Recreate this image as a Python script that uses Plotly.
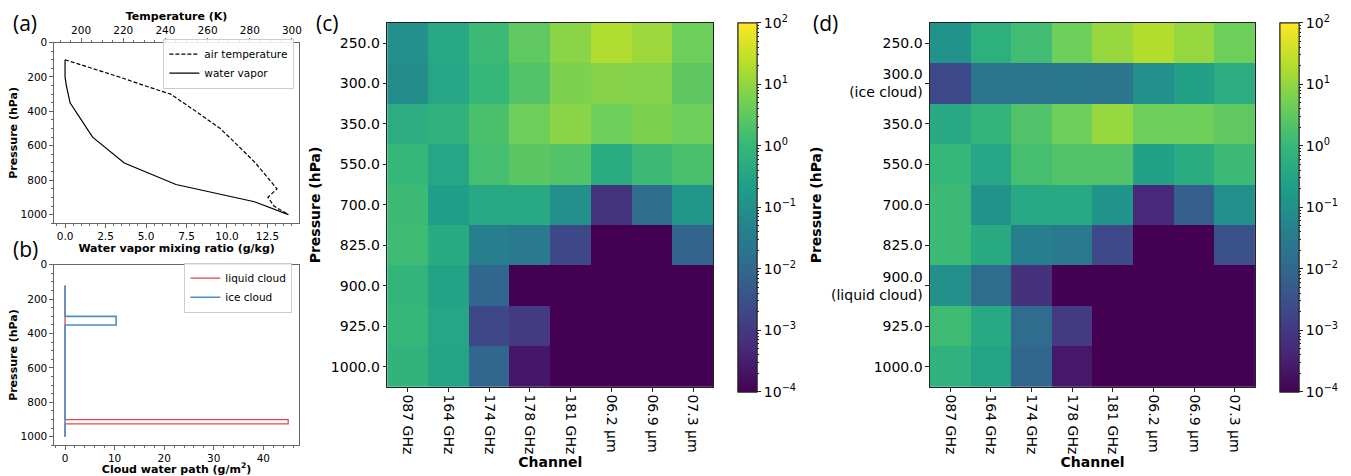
import numpy as np
import plotly.graph_objects as go

W, H = 1351, 476
FONT = "DejaVu Sans"

# ---------------- data ----------------
# (a) air temperature profile
temp_p = [100, 150, 200, 250, 300, 400, 500, 600, 700, 850, 900, 950, 1000]
temp_K = [192.4, 205.5, 218.1, 230.0, 242.5, 254.5, 266.0, 274.5, 282.7, 292.9, 288.6, 291.5, 298.2]
# (a) water vapour mixing ratio profile
vapor_p = [100, 200, 250, 300, 350, 550, 700, 825, 900, 925, 1000]
vapor_q = [0.0, 0.0, 0.08, 0.18, 0.31, 1.70, 3.66, 6.85, 10.4, 11.7, 13.8]
# (b) cloud water path
cloud_p = [121, 250, 300, 350, 550, 700, 825, 900, 925, 1000]
liquid_cwp = [0, 0, 0, 0, 0, 0, 0, 45.0, 0, 0]
ice_cwp = [0, 0, 10.3, 0, 0, 0, 0, 0, 0, 0]

# (c),(d) sensitivity heat maps
levels = [250.0, 300.0, 350.0, 550.0, 700.0, 825.0, 900.0, 925.0, 1000.0]
channels = ["087 GHz", "164 GHz", "174 GHz", "178 GHz", "181 GHz", "06.2 µm", "06.9 µm", "07.3 µm"]
level_notes_d = {300.0: "(ice cloud)", 900.0: "(liquid cloud)"}

sens_c = [
    [0.10, 0.40, 1.2, 3.2, 8.3, 19.0, 12.6, 4.5],
    [0.087, 0.35, 1.0, 2.2, 6.3, 7.8, 7.1, 3.0],
    [0.52, 0.69, 1.8, 4.5, 8.3, 4.5, 6.3, 4.5],
    [1.0, 0.35, 1.6, 2.8, 2.2, 0.49, 1.2, 1.8],
    [1.2, 0.21, 0.40, 0.40, 0.10, 0.0008, 0.0126, 0.14],
    [1.3, 0.46, 0.038, 0.029, 0.0021, 1e-6, 1e-6, 0.0083],
    [0.85, 0.28, 0.0095, 1e-6, 1e-6, 1e-6, 1e-6, 1e-6],
    [1.0, 0.35, 0.002, 0.00105, 1e-6, 1e-6, 1e-6, 1e-6],
    [0.79, 0.32, 0.0095, 0.00023, 1e-6, 1e-6, 1e-6, 1e-6],
]
sens_d = [
    [0.115, 0.60, 1.38, 4.5, 11.0, 20.0, 11.0, 4.5],
    [0.0022, 0.023, 0.023, 0.025, 0.022, 0.107, 0.26, 0.52],
    [0.40, 0.85, 2.1, 4.5, 11.0, 4.5, 4.5, 3.2],
    [0.98, 0.35, 1.6, 2.2, 2.2, 0.26, 0.49, 1.2],
    [1.2, 0.115, 0.40, 0.40, 0.126, 0.00046, 0.0063, 0.10],
    [1.2, 0.46, 0.038, 0.029, 0.0022, 1e-6, 1e-6, 0.0032],
    [0.10, 0.0126, 0.00069, 1e-6, 1e-6, 1e-6, 1e-6, 1e-6],
    [1.3, 0.40, 0.0126, 0.00105, 1e-6, 1e-6, 1e-6, 1e-6],
    [0.69, 0.32, 0.0095, 0.00025, 1e-6, 1e-6, 1e-6, 1e-6],
]
cbar_exponents = [-4, -3, -2, -1, 0, 1, 2]

# ---------------- helpers ----------------
def fx(px):
    return px / W


def fy(py):
    return 1 - py / H


def logz(rows):
    return np.clip(np.log10(np.array(rows, dtype=float)), -4, 2)


level_lbl = [f"{p:.1f}" for p in levels]
level_txt_d = [f"{p:.1f}" + (f"<br>{level_notes_d[p]}" if p in level_notes_d else "") for p in levels]
cb_text = [f"10<sup>{'−' if e < 0 else ''}{abs(e)}</sup>" for e in cbar_exponents]
minor_vals = [np.log10(m * 10.0 ** e) for e in cbar_exponents[:-1] for m in range(2, 10)]

SPINE_AB = "#666666"
SPINE_HM = "#222222"
RED = "#e8474a"
BLUE = "#4a8fc8"


def cbar(x0, major=True):
    d = dict(
        x=fx(x0), xanchor="left", y=fy(17), yanchor="top",
        len=369, lenmode="pixels", thickness=19, thicknessmode="pixels",
        xpad=0, ypad=0, outlinewidth=1, outlinecolor=SPINE_HM,
        ticks="outside", tickcolor=SPINE_HM, tickwidth=1,
    )
    if major:
        d.update(tickmode="array", tickvals=cbar_exponents, ticktext=cb_text, ticklen=4,
                 tickfont=dict(size=14, family=FONT, color="black"))
    else:
        d.update(tickmode="array", tickvals=minor_vals, ticklen=2, showticklabels=False)
    return d


fig = go.Figure()

# (a)
fig.add_trace(go.Scatter(x=temp_K, y=temp_p, xaxis="x2", yaxis="y", mode="lines",
                         line=dict(color="black", width=1.2, dash="4px,2px"),
                         name="air temperature", legend="legend"))
fig.add_trace(go.Scatter(x=vapor_q, y=vapor_p, xaxis="x", yaxis="y", mode="lines",
                         line=dict(color="black", width=1.2),
                         name="water vapor", legend="legend"))
# (b)
fig.add_trace(go.Scatter(x=liquid_cwp, y=cloud_p, xaxis="x3", yaxis="y3", mode="lines",
                         line=dict(color=RED, width=1.3, shape="vh"),
                         name="liquid cloud", legend="legend2"))
fig.add_trace(go.Scatter(x=ice_cwp, y=cloud_p, xaxis="x3", yaxis="y3", mode="lines",
                         line=dict(color=BLUE, width=1.6, shape="vh"),
                         name="ice cloud", legend="legend2"))

# (c), (d)
for z, xa, ya, cbx in [(sens_c, "x4", "y4", 740), (sens_d, "x5", "y5", 1283)]:
    fig.add_trace(go.Heatmap(z=logz(z), x=channels, y=level_lbl, xaxis=xa, yaxis=ya,
                             colorscale="Viridis", zmin=-4, zmax=2, colorbar=cbar(cbx),
                             showlegend=False, hoverinfo="skip"))
    fig.add_trace(go.Scatter(x=[None], y=[None], xaxis=xa, yaxis=ya, mode="markers",
                             showlegend=False, hoverinfo="skip",
                             marker=dict(color=[0], colorscale="Viridis", cmin=-4, cmax=2,
                                         showscale=True, colorbar=cbar(cbx, major=False))))

ab_tick = dict(size=10.5, family=FONT, color="black")
ab_title = dict(size=11, family=FONT, color="black")
common_ab = dict(showgrid=False, zeroline=False, showline=True, linecolor=SPINE_AB, linewidth=1,
                 ticks="outside", ticklen=3.5, tickwidth=1, tickcolor=SPINE_AB, tickfont=ab_tick)

hm_tick = dict(size=14, family=FONT, color="black")
hm_title = dict(size=14, family=FONT, color="black")
common_hm = dict(showgrid=False, zeroline=False, showline=True, mirror=True, linecolor=SPINE_HM,
                 linewidth=1, ticks="outside", ticklen=3.5, tickwidth=1, tickcolor=SPINE_HM,
                 tickfont=hm_tick)

legend_common = dict(xanchor="right", yanchor="top", bordercolor="#cccccc", borderwidth=1,
                     bgcolor="rgba(255,255,255,0.85)", font=dict(size=10.5, family=FONT),
                     tracegroupgap=0, itemwidth=30)

layout = dict(
    width=W, height=H, margin=dict(l=0, r=0, t=0, b=0),
    paper_bgcolor="white", plot_bgcolor="white",
    font=dict(family=FONT, color="black"),
    xaxis=dict(domain=[fx(54), fx(300)], anchor="y", range=[-0.69, 14.47], tick0=0, dtick=2.5,
               tickformat=".1f", minor=dict(ticks="outside", ticklen=2, dtick=0.5, tickcolor=SPINE_AB),
               title=dict(text="<b>Water vapor mixing ratio (g/kg)</b>", font=ab_title, standoff=0),
               **common_ab),
    xaxis2=dict(overlaying="x", side="top", anchor="y", range=[187.1, 303.5], tick0=200, dtick=20,
                minor=dict(ticks="outside", ticklen=2, dtick=5, tickcolor=SPINE_AB),
                title=dict(text="<b>Temperature (K)</b>", font=ab_title, standoff=0),
                **common_ab),
    yaxis=dict(domain=[fy(220), fy(37)], anchor="x", range=[1050, 0], tick0=0, dtick=200, mirror=True,
               minor=dict(ticks="outside", ticklen=2, dtick=50, tickcolor=SPINE_AB),
               title=dict(text="<b>Pressure (hPa)</b>", font=ab_title, standoff=0),
               **common_ab),
    xaxis3=dict(domain=[fx(54), fx(300)], anchor="y3", range=[-2.25, 47.25], tick0=0, dtick=10, mirror=True,
                minor=dict(ticks="outside", ticklen=2, dtick=2, tickcolor=SPINE_AB),
                title=dict(text="<b>Cloud water path (g/m<sup>2</sup>)</b>", font=ab_title, standoff=2),
                **common_ab),
    yaxis3=dict(domain=[fy(445), fy(262)], anchor="x3", range=[1050, 0], tick0=0, dtick=200, mirror=True,
                minor=dict(ticks="outside", ticklen=2, dtick=50, tickcolor=SPINE_AB),
                title=dict(text="<b>Pressure (hPa)</b>", font=ab_title, standoff=0),
                **common_ab),
    xaxis4=dict(domain=[fx(388), fx(715)], anchor="y4", tickangle=90,
                title=dict(text="<b>Channel</b>", font=hm_title, standoff=2), **common_hm),
    yaxis4=dict(domain=[fy(386), fy(17)], anchor="x4", autorange="reversed",
                title=dict(text="<b>Pressure (hPa)</b>", font=hm_title, standoff=6), **common_hm),
    xaxis5=dict(domain=[fx(932), fx(1258)], anchor="y5", tickangle=90,
                title=dict(text="<b>Channel</b>", font=hm_title, standoff=2), **common_hm),
    yaxis5=dict(domain=[fy(386), fy(17)], anchor="x5", autorange="reversed",
                tickmode="array", tickvals=level_lbl, ticktext=level_txt_d,
                title=dict(text="<b>Pressure (hPa)</b>", font=hm_title, standoff=6), **common_hm),
    legend=dict(x=fx(295), y=fy(33), **legend_common),
    legend2=dict(x=fx(293), y=fy(260), **legend_common),
    annotations=[
        dict(text=t, x=fx(px), y=fy(py), xref="paper", yref="paper", xanchor="left", yanchor="middle",
             showarrow=False, font=dict(size=21, family="Open Sans", color="black"))
        for t, px, py in [("(a)", 11, 17), ("(b)", 11, 246), ("(c)", 315, 17), ("(d)", 813, 17)]
    ],
)
fig.update_layout(**layout)
fig.write_html("out.html")
